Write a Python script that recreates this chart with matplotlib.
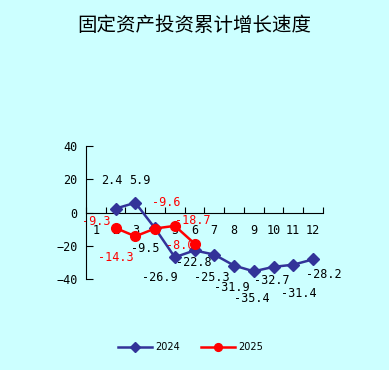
import matplotlib
matplotlib.use("Agg")
import matplotlib.pyplot as plt

months = [1, 2, 3, 4, 5, 6, 7, 8, 9, 10, 11, 12]
m2024 = [2, 3, 4, 5, 6, 7, 8, 9, 10, 11, 12]
v2024 = [2.4, 5.9, -9.5, -26.9, -22.8, -25.3, -31.9, -35.4, -32.7, -31.4, -28.2]
m2025 = [2, 3, 4, 5, 6]
v2025 = [-9.3, -14.3, -9.6, -8.0, -18.7]

# label offsets in pixels (dx, dy)
off2024 = [(-4, 28), (4, 22), (-10, -20), (-15, -20), (-1, -12), (-2, -23),
           (-2, -22), (-2, -27), (-2, -14), (6, -29), (11, -15)]
off2025 = [(-19, 7), (-20, -21), (11, 26), (5, -20), (-2, 23)]

bg = "#ccffff"
mono = "DejaVu Sans Mono"

fig = plt.figure(figsize=(3.89, 3.70), dpi=100, facecolor=bg)
ax = fig.add_axes([0.221, 0.246, 0.609, 0.359], facecolor=bg)

x24 = [m - 0.5 for m in m2024]
x25 = [m - 0.5 for m in m2025]
ax.plot(x24, v2024, color="#333399", lw=1.8, marker="D", ms=6, label="2024", zorder=3)
ax.plot(x25, v2025, color="red", lw=1.8, marker="o", ms=7, label="2025", zorder=4)

for x, v, (dx, dy) in zip(x24, v2024, off2024):
    ax.annotate(f"{v:.1f}", (x, v), xytext=(dx, dy), textcoords="offset pixels",
                ha="center", va="center", fontsize=8.5, family=mono, color="black", zorder=2)
for x, v, (dx, dy) in zip(x25, v2025, off2025):
    ax.annotate(f"{v:.1f}", (x, v), xytext=(dx, dy), textcoords="offset pixels",
                ha="center", va="center", fontsize=8.5, family=mono, color="red", zorder=2)

ax.set_xlim(0, 12)
ax.set_ylim(-40, 40)
ax.spines["top"].set_visible(False)
ax.spines["right"].set_visible(False)
ax.spines["bottom"].set_position(("data", 0))
ax.set_xticks(range(13))
ax.set_xticklabels([])
ax.set_xticks([m - 0.5 for m in months], minor=True)
ax.set_xticklabels([str(m) for m in months], minor=True, family=mono, fontsize=8.5)
ax.tick_params(axis="x", which="major", direction="in", length=4)
ax.tick_params(axis="x", which="minor", length=0, pad=8)
ax.set_yticks([-40, -20, 0, 20, 40])
ax.tick_params(axis="y", direction="in", length=5, pad=6, labelsize=8.5)
for t in ax.get_yticklabels():
    t.set_family(mono)

fig.text(0.5, 0.93, "固定资产投资累计增长速度", ha="center", va="center",
         fontsize=14, family=["Noto Sans CJK SC", "DejaVu Sans"])

fig.legend(loc="center", bbox_to_anchor=(0.49, 0.062), ncol=2, frameon=False,
           fontsize=7, handlelength=3.5, handletextpad=0.3, columnspacing=2.2,
           markerscale=0.8)

fig.savefig("out.png", dpi=100, facecolor=bg)
